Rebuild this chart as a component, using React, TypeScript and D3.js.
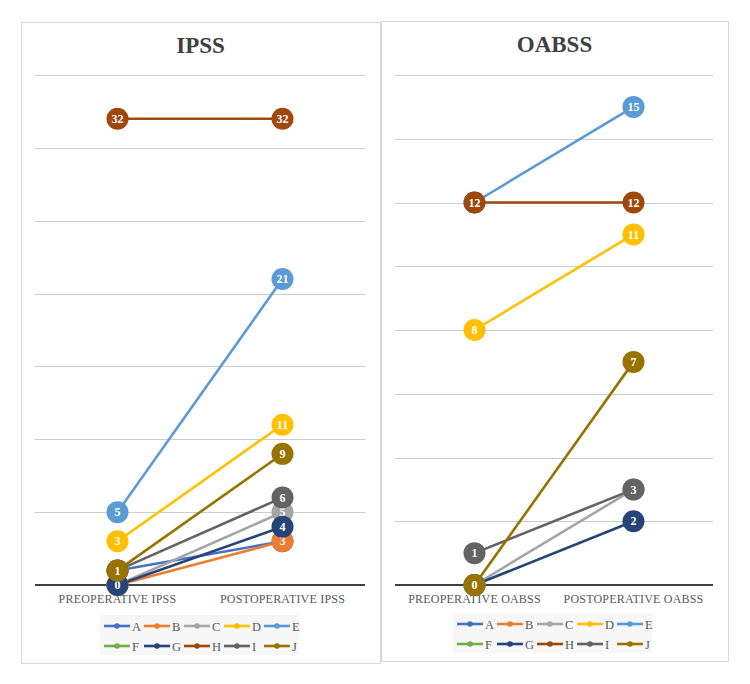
import React from "react";
import * as d3 from "d3";

const seriesNames = ["A", "B", "C", "D", "E", "F", "G", "H", "I", "J"];
const seriesColors = ["#4472C4", "#ED7D31", "#A5A5A5", "#FFC000", "#5B9BD5", "#70AD47", "#264478", "#9E480E", "#636363", "#997300"];

const ipssCategories = ["PREOPERATIVE IPSS", "POSTOPERATIVE IPSS"];
const ipssValues: (number | null)[][] = [
  [1, 3],
  [0, 3],
  [0, 5],
  [3, 11],
  [5, 21],
  [null, null],
  [0, 4],
  [32, 32],
  [1, 6],
  [1, 9],
];
const ipssTicks = [0, 5, 10, 15, 20, 25, 30, 35];

const oabssCategories = ["PREOPERATIVE OABSS", "POSTOPERATIVE OABSS"];
const oabssValues: (number | null)[][] = [
  [null, null],
  [null, null],
  [0, 3],
  [8, 11],
  [12, 15],
  [null, null],
  [0, 2],
  [12, 12],
  [1, 3],
  [0, 7],
];
const oabssTicks = [0, 2, 4, 6, 8, 10, 12, 14, 16];

type PanelProps = {
  title: string;
  box: [number, number, number, number];
  plot: [number, number, number, number];
  categories: string[];
  values: (number | null)[][];
  ticks: number[];
  legendX: number;
  legendY: number;
};

const serif = "'Liberation Serif', 'Times New Roman', serif";

function Panel({ title, box, plot, categories, values, ticks, legendX, legendY }: PanelProps) {
  const [bx, by, bw, bh] = box;
  const [px0, py0, px1, py1] = plot;
  const x = d3.scaleBand<string>().domain(categories).range([px0, px1]);
  const y = d3.scaleLinear().domain([0, d3.max(ticks) as number]).range([py1, py0]);
  const cx = (i: number) => (x(categories[i]) as number) + x.bandwidth() / 2;
  const line = d3
    .line<[number, number | null]>()
    .defined((d) => d[1] !== null)
    .x((d) => cx(d[0]))
    .y((d) => y(d[1] as number));

  return (
    <g>
      <rect x={bx + 0.5} y={by + 0.5} width={bw} height={bh} fill="#fff" stroke="#d9d9d9" strokeWidth={1} />
      <text x={bx + bw / 2} y={by + 31} textAnchor="middle" fontFamily={serif} fontWeight="bold" fontSize={23} fill="#404040">
        {title}
      </text>
      {ticks.map((t) =>
        t === 0 ? null : (
          <line key={t} x1={px0} x2={px1} y1={Math.round(y(t)) + 0.5} y2={Math.round(y(t)) + 0.5} stroke="#cccccc" strokeWidth={1} />
        )
      )}
      <line x1={px0} x2={px1} y1={y(0)} y2={y(0)} stroke="#404040" strokeWidth={2} />
      {categories.map((c, i) => (
        <text key={c} x={cx(i)} y={py1 + 18} textAnchor="middle" fontFamily={serif} fontSize={12} fill="#595959" letterSpacing={0.2}>
          {c}
        </text>
      ))}
      {values.map((v, s) => (
        <path key={s} d={line(v.map((d, i) => [i, d]) as [number, number | null][]) || ""} fill="none" stroke={seriesColors[s]} strokeWidth={2.6} strokeLinejoin="round" />
      ))}
      {values.map((v, s) =>
        v.map((d, i) =>
          d === null ? null : (
            <g key={s + "-" + i}>
              <circle cx={cx(i)} cy={y(d)} r={11} fill={seriesColors[s]} />
              <text x={cx(i)} y={y(d) + 4.2} textAnchor="middle" fontFamily={serif} fontWeight="bold" fontSize={12} fill="#fff">
                {d}
              </text>
            </g>
          )
        )
      )}
      <rect x={legendX - 4} y={legendY - 11} width={199} height={40} fill="#f7f7f7" />
      {seriesNames.map((n, s) => {
        const lx = legendX + (s % 5) * 40;
        const ly = legendY + Math.floor(s / 5) * 20;
        return (
          <g key={n}>
            <line x1={lx} x2={lx + 26} y1={ly} y2={ly} stroke={seriesColors[s]} strokeWidth={2.6} />
            <circle cx={lx + 13} cy={ly} r={2.8} fill={seriesColors[s]} />
            <text x={lx + 28} y={ly + 4.5} fontFamily={serif} fontSize={12.5} fill="#595959">
              {n}
            </text>
          </g>
        );
      })}
    </g>
  );
}

export default function App() {
  return (
    <svg width={750} height={684} style={{ position: "absolute", left: 0, top: 0 }}>
      <rect x={0} y={0} width={750} height={684} fill="#fff" />
      <Panel
        title="IPSS"
        box={[21, 22, 359, 641]}
        plot={[35, 75, 365, 585]}
        categories={ipssCategories}
        values={ipssValues}
        ticks={ipssTicks}
        legendX={104}
        legendY={626}
      />
      <Panel
        title="OABSS"
        box={[381, 21, 347, 640]}
        plot={[395, 75, 713, 585]}
        categories={oabssCategories}
        values={oabssValues}
        ticks={oabssTicks}
        legendX={457}
        legendY={624}
      />
    </svg>
  );
}
